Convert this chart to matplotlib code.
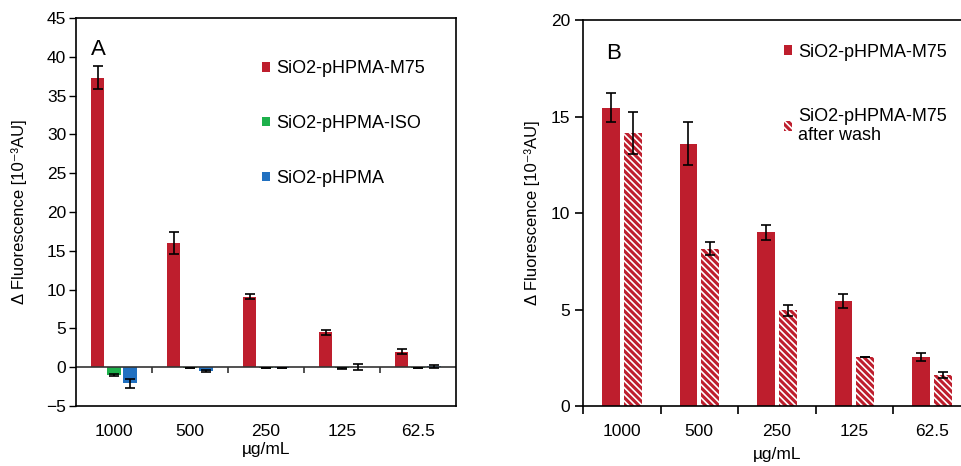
import numpy as np
import matplotlib
matplotlib.use("Agg")
import matplotlib.pyplot as plt

plt.rcParams["font.family"] = ["Liberation Sans", "DejaVu Sans"]
plt.rcParams["hatch.linewidth"] = 2.2

conc = ["1000", "500", "250", "125", "62.5"]

# panel A
m75_a = [37.3, 16.0, 9.1, 4.5, 2.0]
m75_a_err = [1.5, 1.4, 0.3, 0.35, 0.35]
iso_a = [-1.0, -0.1, -0.1, -0.15, -0.1]
iso_a_err = [0.1, 0.05, 0.05, 0.05, 0.05]
phpma_a = [-2.1, -0.5, -0.1, 0.05, 0.1]
phpma_a_err = [0.6, 0.15, 0.05, 0.35, 0.15]

# panel B
m75_b = [15.45, 13.6, 9.0, 5.45, 2.55]
m75_b_err = [0.75, 1.1, 0.4, 0.35, 0.2]
wash_b = [14.15, 8.15, 4.95, 2.55, 1.6]
wash_b_err = [1.1, 0.35, 0.3, 0.0, 0.15]

red = "#BE1E2D"
green = "#1DB04B"
blue = "#2070C0"

fig = plt.figure(figsize=(9.62, 4.66), dpi=100)
x = np.arange(len(conc))
ylab = "Δ Fluorescence [10⁻³AU]"
ekw = dict(ecolor="black", elinewidth=1.2, capsize=3.5, capthick=1.2)
leg_kw = dict(frameon=False, fontsize=13, handlelength=0.45, handleheight=0.45,
              handletextpad=0.35, borderaxespad=0)

# ---- A ----
axA = fig.add_axes([0.079, 0.1288, 0.395, 0.8326])
w = 0.18
axA.bar(x - 0.215, m75_a, w, color=red, yerr=m75_a_err, error_kw=ekw, label="SiO2-pHPMA-M75")
axA.bar(x, iso_a, w, color=green, yerr=iso_a_err, error_kw=ekw, label="SiO2-pHPMA-ISO")
axA.bar(x + 0.215, phpma_a, w, color=blue, yerr=phpma_a_err, error_kw=ekw, label="SiO2-pHPMA")
axA.axhline(0, color="#333333", lw=1.2, zorder=1)
axA.vlines(x[1:] - 0.5, -0.8, 0, color="#333333", lw=1.2)
axA.set_xlim(-0.5, len(conc) - 0.5)
axA.set_ylim(-5, 45)
axA.set_yticks(range(-5, 46, 5))
axA.set_xticks(x)
axA.set_xticklabels(conc)
axA.tick_params(axis="x", length=0, pad=13, labelsize=12.5)
axA.tick_params(axis="y", length=5, width=1, pad=2, labelsize=12.5)
for s in axA.spines.values():
    s.set_linewidth(1.2)
axA.set_ylabel(ylab, fontsize=12, labelpad=14)
axA.set_xlabel("µg/mL", fontsize=12.5, labelpad=2)
axA.text(0.04, 0.905, "A", transform=axA.transAxes, fontsize=16)
axA.legend(loc="upper left", bbox_to_anchor=(0.47, 0.91), labelspacing=2.1, **leg_kw)

# ---- B ----
axB = fig.add_axes([0.606, 0.1288, 0.403, 0.828])
wb = 0.23
axB.bar(x - 0.14, m75_b, wb, color=red, yerr=m75_b_err, error_kw=ekw, label="SiO2-pHPMA-M75")
axB.bar(x + 0.14, wash_b, wb, color="white", edgecolor=red, hatch="\\\\\\\\\\", lw=0,
        yerr=wash_b_err, error_kw=ekw, label="SiO2-pHPMA-M75\nafter wash")
axB.set_xlim(-0.5, len(conc) - 0.5)
axB.set_ylim(0, 20)
axB.set_yticks(range(0, 21, 5))
axB.set_xticks(x)
axB.set_xticklabels(conc)
axB.set_xticks(np.arange(len(conc) + 1) - 0.5, minor=True)
axB.tick_params(axis="x", which="major", length=0, pad=13, labelsize=12.5)
axB.tick_params(axis="x", which="minor", length=6, width=1.2)
axB.tick_params(axis="y", length=6, width=1.2, pad=3, labelsize=12.5)
for s in axB.spines.values():
    s.set_linewidth(1.2)
axB.set_ylabel(ylab, fontsize=12, labelpad=8)
axB.set_xlabel("µg/mL", fontsize=12.5, labelpad=6)
axB.text(0.06, 0.9, "B", transform=axB.transAxes, fontsize=16)
axB.legend(loc="upper left", bbox_to_anchor=(0.5, 0.958), labelspacing=2.6, **leg_kw)

fig.savefig("out.png", dpi=100)
